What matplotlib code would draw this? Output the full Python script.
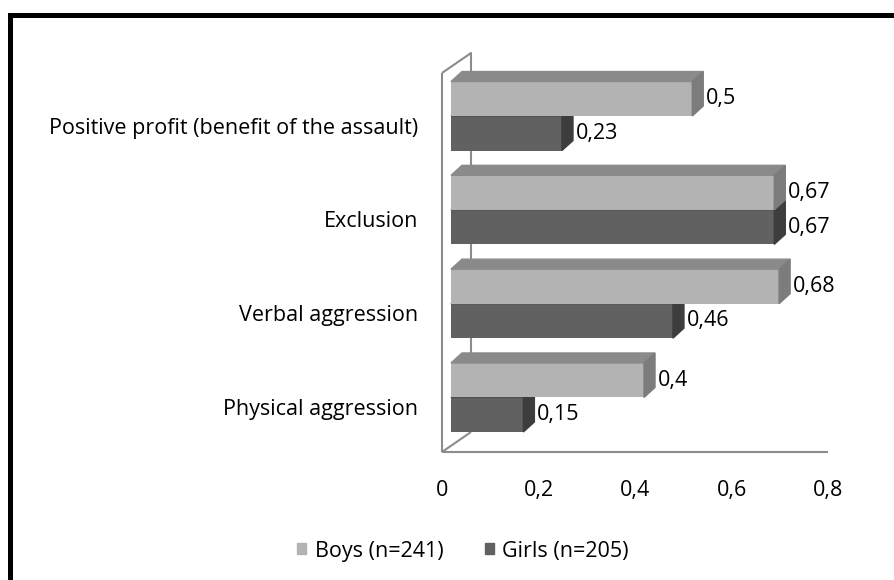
import matplotlib.pyplot as plt
from matplotlib.patches import Polygon, Patch
from matplotlib.lines import Line2D

plt.rcParams['font.family'] = ['Open Sans', 'DejaVu Sans']
plt.rcParams['font.size'] = 15.5

categories = ['Physical aggression', 'Verbal aggression', 'Exclusion',
              'Positive profit (benefit of the assault)']
boys = [0.4, 0.68, 0.67, 0.5]
girls = [0.15, 0.46, 0.67, 0.23]
series_names = ['Boys (n=241)', 'Girls (n=205)']
xticks = [0, 0.2, 0.4, 0.6, 0.8]
xtick_labels = ['0', '0,2', '0,4', '0,6', '0,8']

W, H = 894, 580
fig = plt.figure(figsize=(W / 100, H / 100), dpi=100)
ax = fig.add_axes([442 / W, (H - 452) / H, 386 / W, 379 / H])
y0, y1 = -0.48, 3.56
ax.set_xlim(0, 0.8)
ax.set_ylim(y0, y1)
px = 0.8 / 386          # data units per pixel, x
py = (y1 - y0) / 379    # data units per pixel, y

boys_front, boys_top, boys_side = '#b3b3b3', '#8a8a8a', '#7c7c7c'
girls_front, girls_top, girls_side = '#616161', '#505050', '#3d3d3d'
wall = '#8c8c8c'

# walls / floor of the pseudo 3d box
dx, dy = 29 * px, 20 * py
kw = dict(color=wall, lw=1.5, clip_on=False, zorder=1, solid_capstyle='butt')
ax.plot([0, 0], [y0, y1], **kw)
ax.plot([0, dx, dx], [y1, y1 + dy, y0 + dy], **kw)
ax.plot([0, dx], [y0, y0 + dy], **kw)
ax.plot([0, 0.8], [y0, y0], **kw)

# bars
bx, by = 9 * px, 9.5 * py
h = 34.5 * py
tx, ty = 11 * px, 10 * py


def bar3d(yb, v, front, top, side, z):
    x0, x1 = bx, bx + v
    ax.barh(yb + h / 2, v, height=h, left=x0, color=front, zorder=z, clip_on=False)
    ax.add_patch(Polygon([(x0, yb + h), (x0 + tx, yb + h + ty), (x1 + tx, yb + h + ty), (x1, yb + h)],
                         closed=True, color=top, zorder=z, clip_on=False))
    ax.add_patch(Polygon([(x1, yb), (x1, yb + h), (x1 + tx, yb + h + ty), (x1 + tx, yb + ty)],
                         closed=True, color=side, zorder=z, clip_on=False))
    ax.text(x1 + tx + 3 * px, yb + h / 2, f'{v:g}'.replace('.', ','),
            ha='left', va='center', zorder=5)


for i in range(len(categories)):
    bar3d(i + by - h, girls[i], girls_front, girls_top, girls_side, 2)
    bar3d(i + by, boys[i], boys_front, boys_top, boys_side, 3)

ax.set_yticks(range(len(categories)))
ax.set_yticklabels(categories)
ax.set_xticks(xticks)
ax.set_xticklabels(xtick_labels)
ax.tick_params(axis='y', length=0, pad=17)
ax.tick_params(axis='x', length=0, pad=20)
for s in ax.spines.values():
    s.set_visible(False)
ax.patch.set_visible(False)

handles = [Patch(color=boys_front), Patch(color=girls_front)]
fig.legend(handles, series_names, loc='center', bbox_to_anchor=(463 / W, 1 - 551 / H),
           ncol=2, frameon=False, handlelength=0.42, handleheight=0.42,
           handletextpad=0.4, columnspacing=1.9)

# black frame (only top and left edges show)
fx, fy = 9.5 / W, 1 - 14.5 / H
fig.add_artist(Line2D([fx, fx, 1.01], [-0.01, fy, fy], color='black', lw=3.6,
                      transform=fig.transFigure, solid_joinstyle='miter'))

fig.savefig('out.png', dpi=100)
